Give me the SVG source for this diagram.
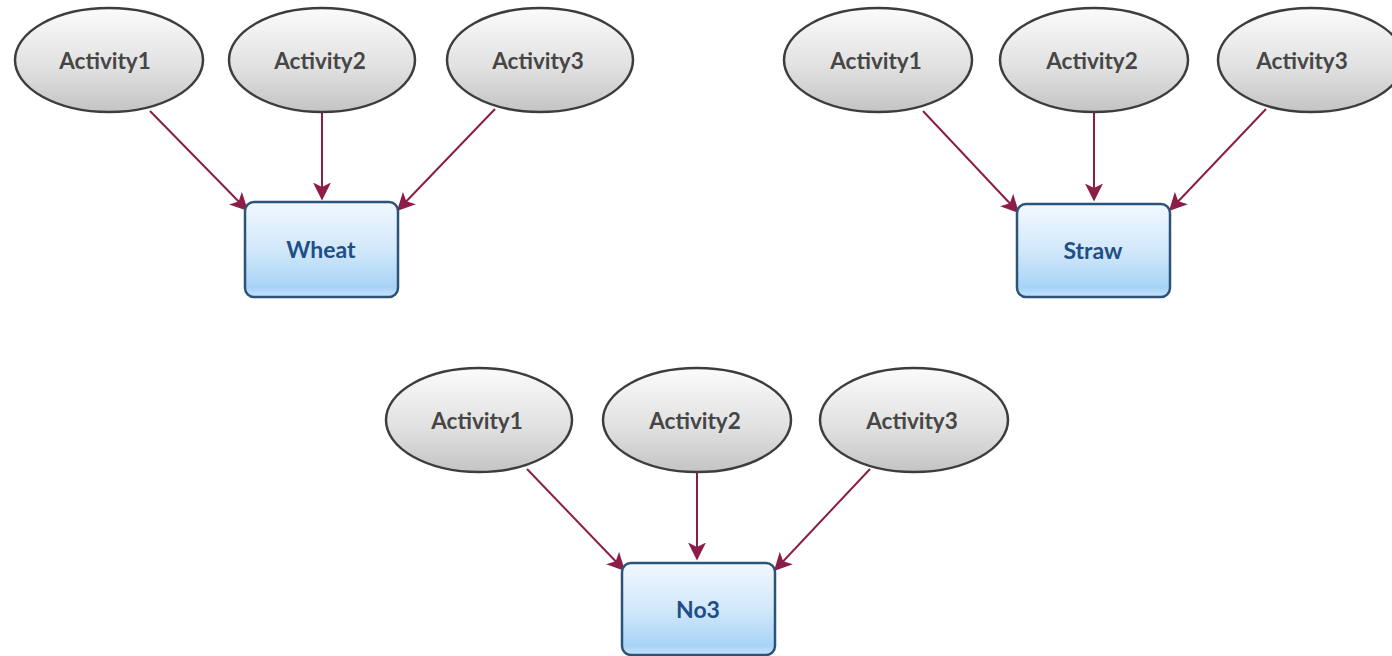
<svg xmlns="http://www.w3.org/2000/svg" width="1392" height="656" viewBox="0 0 1392 656">
<defs>
<linearGradient id="gE" x1="0" y1="0" x2="0" y2="1">
<stop offset="0" stop-color="#fbfbfb"/>
<stop offset="0.55" stop-color="#e2e2e2"/>
<stop offset="1" stop-color="#c4c4c4"/>
</linearGradient>
<linearGradient id="gR" x1="0" y1="0" x2="0" y2="1">
<stop offset="0" stop-color="#f2f8fe"/>
<stop offset="0.5" stop-color="#d2e8fb"/>
<stop offset="0.9" stop-color="#a8d3f6"/>
<stop offset="1" stop-color="#c8e3f9"/>
</linearGradient>
<marker id="ah" viewBox="0 0 12 12" refX="11" refY="6" markerWidth="18" markerHeight="18" markerUnits="userSpaceOnUse" orient="auto">
<path d="M0,0 L12,6 L0,12 L3,6 z" fill="#8b1d48"/>
</marker>
</defs>
<style>
.el{fill:url(#gE);stroke:#3d3d3d;stroke-width:2.5}
.rc{fill:url(#gR);stroke:#2c5479;stroke-width:2.5}
.te{font-family:Lato,"Open Sans","Liberation Sans",sans-serif;font-weight:bold;font-size:22.5px;fill:#464646;text-anchor:middle}
.tr{font-family:Lato,"Open Sans","Liberation Sans",sans-serif;font-weight:bold;font-size:23px;fill:#1f4f86;text-anchor:middle}
.cn{stroke:#8b1d48;stroke-width:2;fill:none;marker-end:url(#ah)}
</style>
<g id="connectors">
<line class="cn" x1="150" y1="111" x2="247" y2="210"/>
<line class="cn" x1="322" y1="113" x2="322" y2="199"/>
<line class="cn" x1="495" y1="109" x2="398" y2="210"/>
<line class="cn" x1="923" y1="111" x2="1018" y2="212"/>
<line class="cn" x1="1094" y1="113" x2="1094" y2="200"/>
<line class="cn" x1="1266" y1="109" x2="1170" y2="210"/>
<line class="cn" x1="527" y1="469" x2="624" y2="570"/>
<line class="cn" x1="697" y1="472" x2="697" y2="559"/>
<line class="cn" x1="870" y1="469" x2="775" y2="570"/>
</g>
<g id="w_a1"><ellipse class="el" cx="109" cy="60" rx="94" ry="52"/><text class="te" x="105" y="69">Activity1</text></g>
<g id="w_a2"><ellipse class="el" cx="322" cy="60" rx="93" ry="52"/><text class="te" x="320" y="69">Activity2</text></g>
<g id="w_a3"><ellipse class="el" cx="540" cy="60" rx="93" ry="52"/><text class="te" x="538" y="69">Activity3</text></g>
<g id="wheat"><rect class="rc" x="245" y="202" width="153" height="95" rx="9"/><text class="tr" x="321" y="258">Wheat</text></g>
<g id="s_a1"><ellipse class="el" cx="878" cy="60" rx="94" ry="52"/><text class="te" x="876" y="69">Activity1</text></g>
<g id="s_a2"><ellipse class="el" cx="1094" cy="60" rx="94" ry="52"/><text class="te" x="1092" y="69">Activity2</text></g>
<g id="s_a3"><ellipse class="el" cx="1311" cy="60" rx="93" ry="52"/><text class="te" x="1302" y="69">Activity3</text></g>
<g id="straw"><rect class="rc" x="1017" y="204" width="153" height="93" rx="9"/><text class="tr" x="1093" y="259">Straw</text></g>
<g id="n_a1"><ellipse class="el" cx="479" cy="420" rx="93" ry="52"/><text class="te" x="477" y="429">Activity1</text></g>
<g id="n_a2"><ellipse class="el" cx="697" cy="420" rx="94" ry="52"/><text class="te" x="695" y="429">Activity2</text></g>
<g id="n_a3"><ellipse class="el" cx="914" cy="420" rx="94" ry="52"/><text class="te" x="912" y="429">Activity3</text></g>
<g id="no3"><rect class="rc" x="622" y="563" width="153" height="92" rx="9"/><text class="tr" x="698" y="618">No3</text></g>
</svg>
